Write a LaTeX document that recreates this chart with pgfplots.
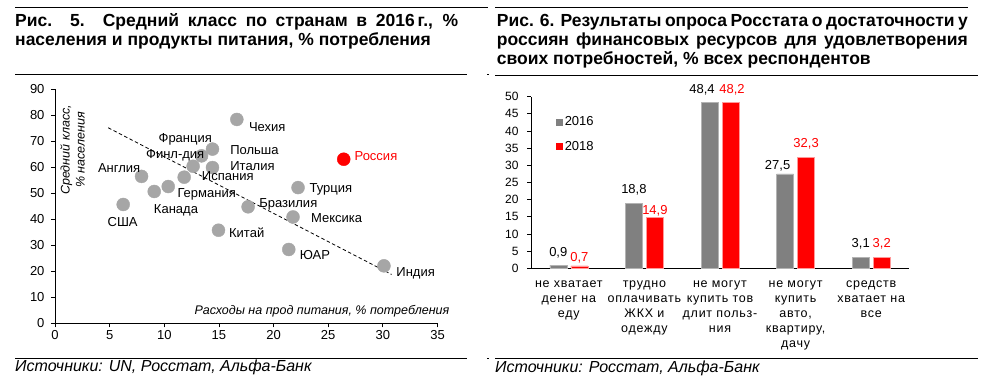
\documentclass[border=0pt]{standalone}
\usepackage{fontspec}
\setmainfont{Liberation Sans}
\newfontfamily\spacedfont{Liberation Sans}[LetterSpace=6]
\usepackage{pgfplots}
\usepackage{pgfplotstable}
\pgfplotsset{compat=1.18}
\definecolor{ptgray}{HTML}{A6A6A6}
\definecolor{bargray}{HTML}{808080}
\definecolor{bred}{HTML}{FF0000}
\pgfplotsset{/pgf/number format/assume math mode=true}

\pgfplotstableread{
x y
6.24 45.7
7.92 56.5
9.08 50.7
10.36 52.6
11.82 56.2
12.64 60.4
13.41 64.4
14.41 67.0
14.41 59.9
16.64 78.4
14.96 35.8
17.67 44.8
22.24 52.2
21.78 40.9
21.39 28.4
30.1 22.1
}\pointsgray

\pgfplotstableread{
x y label
6.19 39.1 США
5.87 59.7 Англия
11.07 43.5 Канада
13.88 49.4 Германия
11.92 70.6 Франция
11.0 64.5 Финл-дия
15.81 56.5 Испания
18.07 60.3 Италия
18.25 66.7 Польша
19.42 75.3 Чехия
25.25 51.6 Турция
21.35 45.9 Бразилия
25.77 40.4 Мексика
17.54 34.9 Китай
23.79 26.3 ЮАР
33.0 19.2 Индия
}\labelsgray

\pgfplotstableread{
x y16 y18 dxa dya dxb dyb
0.5 0.9 0.7 0 7 0 2.5
1.5 18.8 14.9 0 8 0 1
2.5 48.4 48.2 -7.5 7 1.5 7
3.5 27.5 32.3 -7.5 2.8 0 8
4.5 3.1 3.2 0 8 0 7.8
}\bars

\begin{document}
\begin{tikzpicture}
\path[use as bounding box] (0pt,0pt) rectangle (987pt,382pt);
% rules
\draw[line width=1pt] (15pt,374.7pt) -- (488pt,374.7pt);
\draw[line width=1pt] (495pt,374.7pt) -- (968pt,374.7pt);
\draw[line width=1pt] (15pt,307pt) -- (467pt,307pt);
\draw[line width=1pt] (487pt,307pt) -- (489pt,307pt);
\draw[line width=1pt] (495pt,306pt) -- (978pt,306pt);
\draw[line width=1pt] (15pt,23.7pt) -- (467pt,23.7pt);
\draw[line width=1pt] (487pt,23.7pt) -- (489pt,23.7pt);
\draw[line width=1pt] (495pt,23.7pt) -- (978pt,23.7pt);
% titles
\begingroup
\bfseries\fontsize{17.5}{19}\selectfont
\node[anchor=base west,inner sep=0] at (15pt,355.3pt) {\makebox[443pt][s]{Рис. 5. Средний класс по странам в 2016\,г., \%}};
\node[anchor=base west,inner sep=0] at (15pt,336.7pt) {населения и продукты питания, \% потребления};
\node[anchor=base west,inner sep=0] at (496.7pt,355.3pt) {\makebox[471pt][s]{Рис. 6. Результаты опроса Росстата о достаточности у}};
\node[anchor=base west,inner sep=0] at (496.7pt,336pt) {\makebox[471pt][s]{россиян финансовых ресурсов для удовлетворения}};
\node[anchor=base west,inner sep=0] at (496.7pt,317pt) {своих потребностей, \% всех респондентов};
\endgroup
% sources
\node[anchor=base west,inner sep=0,font=\itshape\fontsize{16}{18}\selectfont] at (15pt,10.3pt) {Источники: UN, Росстат, Альфа-Банк};
\node[anchor=base west,inner sep=0,font=\itshape\fontsize{16}{18}\selectfont] at (495pt,9pt) {Источники: Росстат, Альфа-Банк};

% left scatter
\begin{axis}[
  at={(55pt,58.7pt)}, anchor=origin, scale only axis,
  width=382.5pt, height=234pt,
  xmin=0, xmax=35, ymin=0, ymax=90,
  xtick={0,5,...,35}, ytick={0,10,...,90},
  axis x line*=bottom, axis y line*=left,
  axis line style={-, black, line width=0.8pt},
  tick style={black, line width=0.8pt},
  tick align=outside, major tick length=4pt,
  tick label style={font=\fontsize{13}{15}\selectfont},
  yticklabel style={xshift=-3pt},
  clip=false,
]
\addplot[black, line width=0.8pt, dash pattern=on 3.5pt off 2.5pt] coordinates {(4.87,75.2) (30.8,18.8)};
\addplot[only marks, mark=*, mark size=6.5pt, mark options={fill=ptgray, draw=ptgray}] table[x=x,y=y] {\pointsgray};
\addplot[only marks, mark=*, mark size=6.5pt, mark options={fill=bred, draw=bred}] coordinates {(26.42,63.1)};
\addplot[draw=none, mark=none, nodes near coords, point meta=explicit symbolic,
  nodes near coords style={anchor=center, inner sep=0pt, text=black, font=\fontsize{13}{15}\selectfont}]
  table[x=x,y=y,meta=label] {\labelsgray};
\addplot[draw=none, mark=none, nodes near coords, point meta=explicit symbolic,
  nodes near coords style={anchor=center, inner sep=0pt, text=bred, font=\fontsize{13}{15}\selectfont}]
  table[x=x,y=y,meta=label] {
x y label
29.37 64.4 Россия
};
\node[rotate=90, align=center, inner sep=0pt, font=\itshape\fontsize{12.5}{15}\selectfont] at (axis cs:1.6,66.7) {Средний класс,\\\% населения};
\node[anchor=base east, inner sep=0pt, font=\itshape\fontsize{12.5}{15}\selectfont] at (axis cs:36.1,3.2) {Расходы на прод питания, \% потребления};
\end{axis}

% right bars
\begin{axis}[
  at={(531pt,113.7pt)}, anchor=origin, scale only axis,
  width=378pt, height=171.7pt,
  xmin=0, xmax=5, ymin=0, ymax=50,
  ytick={0,5,...,50},
  xtick={0.5,1.5,2.5,3.5,4.5},
  xticklabels={{не хватает\\денег на\\еду},{трудно\\оплачивать\\ЖКХ и\\одежду},{не могут\\купить тов\\длит польз-\\ния},{не могут\\купить\\авто,\\квартиру,\\дачу},{средств\\хватает на\\все}},
  x tick label style={align=center, font=\spacedfont\fontsize{12.5}{15}\selectfont, yshift=-5pt},
  xtick style={draw=none},
  axis x line*=bottom, axis y line*=left,
  axis line style={-, black, line width=0.8pt},
  ytick style={black, line width=0.8pt},
  tick align=outside, major tick length=4pt,
  y tick label style={font=\fontsize{12}{14}\selectfont, xshift=-5pt},
  ybar, bar width=17pt,
  clip=false,
  legend style={draw=none, fill=none, at={(axis cs:0.33,44.8)}, anchor=north west,
    font=\fontsize{13}{15}\selectfont, row sep=10pt, inner sep=0pt},
  legend cell align=left,
  nodes near coords={\pgfmathprintnumber[use comma, fixed, fixed zerofill, precision=1]{\pgfplotspointmeta}},
]
\addplot[fill=bargray, draw=bargray!60!white, line width=0.6pt, bar shift=-10.5pt,
  visualization depends on={\thisrow{dxa} \as \dxa},
  visualization depends on={\thisrow{dya} \as \dya},
  nodes near coords style={text=black, anchor=south, inner sep=0pt, font=\fontsize{13}{15}\selectfont, xshift=\dxa pt, yshift=\dya pt},
  legend image code/.code={\fill[bargray] (0pt,-3pt) rectangle (6pt,3pt);}]
  table[x=x,y=y16] {\bars};
\addlegendentry{2016}
\addplot[fill=bred, draw=bred!40!white, line width=0.6pt, bar shift=10.5pt,
  visualization depends on={\thisrow{dxb} \as \dxb},
  visualization depends on={\thisrow{dyb} \as \dyb},
  nodes near coords style={text=bred, anchor=south, inner sep=0pt, font=\fontsize{13}{15}\selectfont, xshift=\dxb pt, yshift=\dyb pt},
  legend image code/.code={\fill[bred] (0pt,-3pt) rectangle (6pt,3pt);}]
  table[x=x,y=y18] {\bars};
\addlegendentry{2018}
\end{axis}
\end{tikzpicture}
\end{document}
